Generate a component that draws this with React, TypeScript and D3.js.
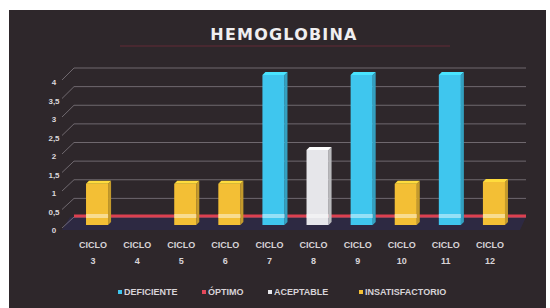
import * as d3 from 'd3'

const categories = ['CICLO 3', 'CICLO 4', 'CICLO 5', 'CICLO 6', 'CICLO 7', 'CICLO 8', 'CICLO 9', 'CICLO 10', 'CICLO 11', 'CICLO 12']
const series = ['DEFICIENTE', 'ÓPTIMO', 'ACEPTABLE', 'INSATISFACTORIO']
const deficiente = [0, 0, 0, 0, 4, 0, 4, 0, 4, 0]
const optimo = [0, 0, 0, 0, 0, 0, 0, 0, 0, 0]
const aceptable = [0, 0, 0, 0, 0, 2, 0, 0, 0, 0]
const insatisfactorio = [1.1, 0, 1.1, 1.1, 0, 0, 0, 1.1, 0, 1.15]
const yTicks = [0, 0.5, 1, 1.5, 2, 2.5, 3, 3.5, 4]

const colors = ['#3fc6ee', '#e2485a', '#e6e6ea', '#f3bf35']
const W = 550, H = 308

const x = d3.scaleBand().domain(categories).range([75, 516]).paddingInner(0.5).paddingOuter(0.25)
// front (labels), bars, back wall
const yFront = d3.scaleLinear().domain([0, 4]).range([230, 82])
const yBar = d3.scaleLinear().domain([0, 4]).range([225, 75])
const yBack = d3.scaleLinear().domain([0, 4]).range([217, 68])

const allSeries = [deficiente, optimo, aceptable, insatisfactorio]

export default function App() {
  const bw = x.bandwidth()
  const dx = 3, dy = 3
  const bars: any[] = []
  categories.forEach((c, i) => {
    allSeries.forEach((vals, s) => {
      const v = vals[i]
      if (!v) return
      const x0 = x(c)!
      const top = yBar(v)
      const bottom = yBar(0)
      const col = colors[s]
      bars.push(
        <g key={c + s}>
          <path d={`M${x0 + bw},${bottom} L${x0 + bw + dx},${bottom - dy} L${x0 + bw + dx},${top - dy} L${x0 + bw},${top} Z`}
            fill={d3.color(col)!.darker(0.6).toString()} />
          <rect x={x0} y={top} width={bw} height={bottom - top} fill={col} />
          <path d={`M${x0},${top} L${x0 + dx},${top - dy} L${x0 + bw + dx},${top - dy} L${x0 + bw},${top} Z`}
            fill={d3.color(col)!.brighter(0.4).toString()} />
          <rect x={x0} y={yBack(0) - 3} width={bw} height={4} fill="#ffffff" opacity={0.45} />
        </g>
      )
    })
  })

  return (
    <svg width={W} height={H} style={{ position: 'absolute', left: 0, top: 0 }}
      fontFamily="'Liberation Sans', Arial, sans-serif">
      <rect width={W} height={H} fill="#ffffff" />
      <rect x={9} y={10} width={537} height={298} fill="#2e272b" />
      <text x={284} y={40} textAnchor="middle" fill="#f0eef0" fontSize={16} fontWeight="bold"
        fontFamily="'DejaVu Sans', sans-serif" letterSpacing={1.2}>HEMOGLOBINA</text>
      <line x1={120} x2={450} y1={46} y2={46} stroke="#7a2a3a" strokeWidth={2} opacity={0.35} />

      {/* floor */}
      <path d={`M70,${yBack(0)} L526,${yBack(0)} L520,${yFront(0)} L62,${yFront(0)} Z`} fill="#2e2c55" opacity={0.55} />

      {yTicks.map(t => (
        <g key={t}>
          <path d={`M62,${yFront(t) - 2} L74,${yBack(t)} L526,${yBack(t)}`} fill="none" stroke="#b8b2ba" strokeWidth={0.8} opacity={0.6} />
          <text x={54} y={yFront(t) + 3} textAnchor="middle" fill="#dcd8dc" fontSize={8} fontWeight="bold">
            {String(t).replace('.', ',')}
          </text>
        </g>
      ))}
      <line x1={74} x2={526} y1={yBack(0) - 1} y2={yBack(0) - 1} stroke="#dc4050" strokeWidth={3} />

      {bars}

      {categories.map(c => {
        const cx = x(c)! + bw / 2 - 4
        const [a, b] = c.split(' ')
        return (
          <g key={c} fill="#d8d4d8" fontSize={9} fontWeight="bold" textAnchor="middle">
            <text x={cx} y={248}>{a}</text>
            <text x={cx} y={264}>{b}</text>
          </g>
        )
      })}

      {series.map((s, i) => {
        const lx = [118, 202, 268, 359][i]
        return (
          <g key={s}>
            <rect x={lx} y={290} width={4} height={4} fill={colors[i]} />
            <text x={lx + 6} y={295} fill="#d8d4d8" fontSize={9} fontWeight="bold">{s}</text>
          </g>
        )
      })}
    </svg>
  )
}
